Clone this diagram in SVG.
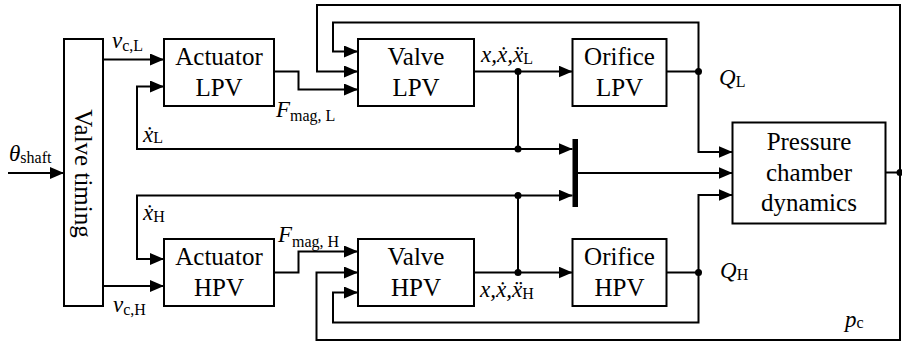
<svg xmlns="http://www.w3.org/2000/svg" width="902" height="342" viewBox="0 0 902 342" font-family="Liberation Serif, DejaVu Serif, serif">
<style>
.box{fill:#fff;stroke:#000;stroke-width:2}
.ln{fill:none;stroke:#000;stroke-width:2}
.arr{fill:none;stroke:#000;stroke-width:2;marker-end:url(#ah)}
.bt{font-size:25px;text-anchor:middle;fill:#000}
.lb{font-size:23px;font-style:italic;fill:#000}
.sb{font-size:16px;font-style:normal}
.dot{fill:#000}
</style>
<defs>
<marker id="ah" markerUnits="userSpaceOnUse" markerWidth="14" markerHeight="12" refX="14" refY="6" orient="auto">
<path d="M0,0 L14,6 L0,12 z" fill="#000"/>
</marker>
</defs>
<g id="connectors">
<path class="arr" d="M8,173 H64"/>
<path class="arr" d="M103,59.5 H164"/>
<path class="arr" d="M103,286 H164"/>
<path class="arr" d="M518,149 H137 V86.5 H164"/>
<path class="arr" d="M518,149 H572.5"/>
<path class="arr" d="M518,195.5 H137 V259 H164"/>
<path class="arr" d="M518,195.5 H572.5"/>
<path class="arr" d="M274,71.5 H298.5 V89.5 H358"/>
<path class="arr" d="M274,272.5 H298.5 V251.5 H358"/>
<path class="arr" d="M474,71.5 H572.5"/>
<path class="ln" d="M518,71.5 V149"/>
<path class="arr" d="M474,272.5 H572.5"/>
<path class="ln" d="M518,272.5 V195.5"/>
<path class="ln" d="M666.5,71.5 H698.5"/>
<path class="arr" d="M698.5,71.5 V22.5 H333 V51.5 H358"/>
<path class="arr" d="M698.5,71.5 V152 H732.5"/>
<path class="ln" d="M666.5,272.5 H698.5"/>
<path class="arr" d="M698.5,272.5 V322.5 H333 V292.5 H358"/>
<path class="arr" d="M698.5,272.5 V195 H732.5"/>
<path class="arr" d="M578,173 H732.5"/>
<path class="ln" d="M885.5,172.5 H900"/>
<path class="arr" d="M900,172.5 V5 H317 V71.5 H358"/>
<path class="arr" d="M900,172.5 V340 H316.5 V272.5 H358"/>
<rect x="572.5" y="139" width="5.5" height="68" fill="#000"/>
<circle class="dot" cx="518" cy="71.5" r="3.5"/>
<circle class="dot" cx="518" cy="149" r="3.5"/>
<circle class="dot" cx="518" cy="195.5" r="3.5"/>
<circle class="dot" cx="518" cy="272.5" r="3.5"/>
<circle class="dot" cx="698.5" cy="71.5" r="3.5"/>
<circle class="dot" cx="698.5" cy="272.5" r="3.5"/>
<circle class="dot" cx="900" cy="172.5" r="3.5"/>
</g>
<g id="valve-timing">
<rect class="box" x="64" y="39" width="39" height="267"/>
<text class="bt" transform="translate(75,173.5) rotate(90)" x="0" y="0">Valve timing</text>
</g>
<g id="actuator-lpv">
<rect class="box" x="164" y="39" width="110" height="67"/>
<text class="bt" x="219" y="65">Actuator</text>
<text class="bt" x="219" y="95.5">LPV</text>
</g>
<g id="actuator-hpv">
<rect class="box" x="164" y="239" width="110" height="67"/>
<text class="bt" x="219" y="265">Actuator</text>
<text class="bt" x="219" y="296">HPV</text>
</g>
<g id="valve-lpv">
<rect class="box" x="358" y="39" width="116" height="67"/>
<text class="bt" x="416" y="65">Valve</text>
<text class="bt" x="416" y="95.5">LPV</text>
</g>
<g id="valve-hpv">
<rect class="box" x="358" y="239" width="116" height="67"/>
<text class="bt" x="416" y="265">Valve</text>
<text class="bt" x="416" y="296">HPV</text>
</g>
<g id="orifice-lpv">
<rect class="box" x="572.5" y="39" width="94" height="67"/>
<text class="bt" x="619.5" y="65">Orifice</text>
<text class="bt" x="619.5" y="95.5">LPV</text>
</g>
<g id="orifice-hpv">
<rect class="box" x="572.5" y="239" width="94" height="67"/>
<text class="bt" x="619.5" y="265">Orifice</text>
<text class="bt" x="619.5" y="296">HPV</text>
</g>
<g id="pressure-chamber">
<rect class="box" x="732.5" y="122.5" width="153" height="101"/>
<text class="bt" x="809" y="150">Pressure</text>
<text class="bt" x="809" y="181">chamber</text>
<text class="bt" x="809" y="211">dynamics</text>
</g>
<g id="labels">
<text class="lb" x="9" y="161">θ<tspan class="sb" dy="2">shaft</tspan></text>
<text class="lb" x="112" y="48">v<tspan class="sb" dy="3">c,L</tspan></text>
<text class="lb" x="113" y="312">v<tspan class="sb" dy="3">c,H</tspan></text>
<text class="lb" x="276" y="117">F<tspan class="sb" dy="4">mag, L</tspan></text>
<text class="lb" x="278" y="242">F<tspan class="sb" dy="5">mag, H</tspan></text>
<text class="lb" x="143" y="142">ẋ<tspan class="sb" dy="1">L</tspan></text>
<text class="lb" x="143" y="220">ẋ<tspan class="sb" dy="2">H</tspan></text>
<text class="lb" x="481" y="62">x,ẋ,ẍ<tspan class="sb" dy="2">L</tspan></text>
<text class="lb" x="480" y="297">x,ẋ,ẍ<tspan class="sb" dy="2">H</tspan></text>
<text class="lb" x="719" y="85">Q<tspan class="sb" dy="2">L</tspan></text>
<text class="lb" x="720" y="278">Q<tspan class="sb" dy="2">H</tspan></text>
<text class="lb" x="845" y="327">p<tspan class="sb" dy="1">c</tspan></text>
</g>
</svg>
